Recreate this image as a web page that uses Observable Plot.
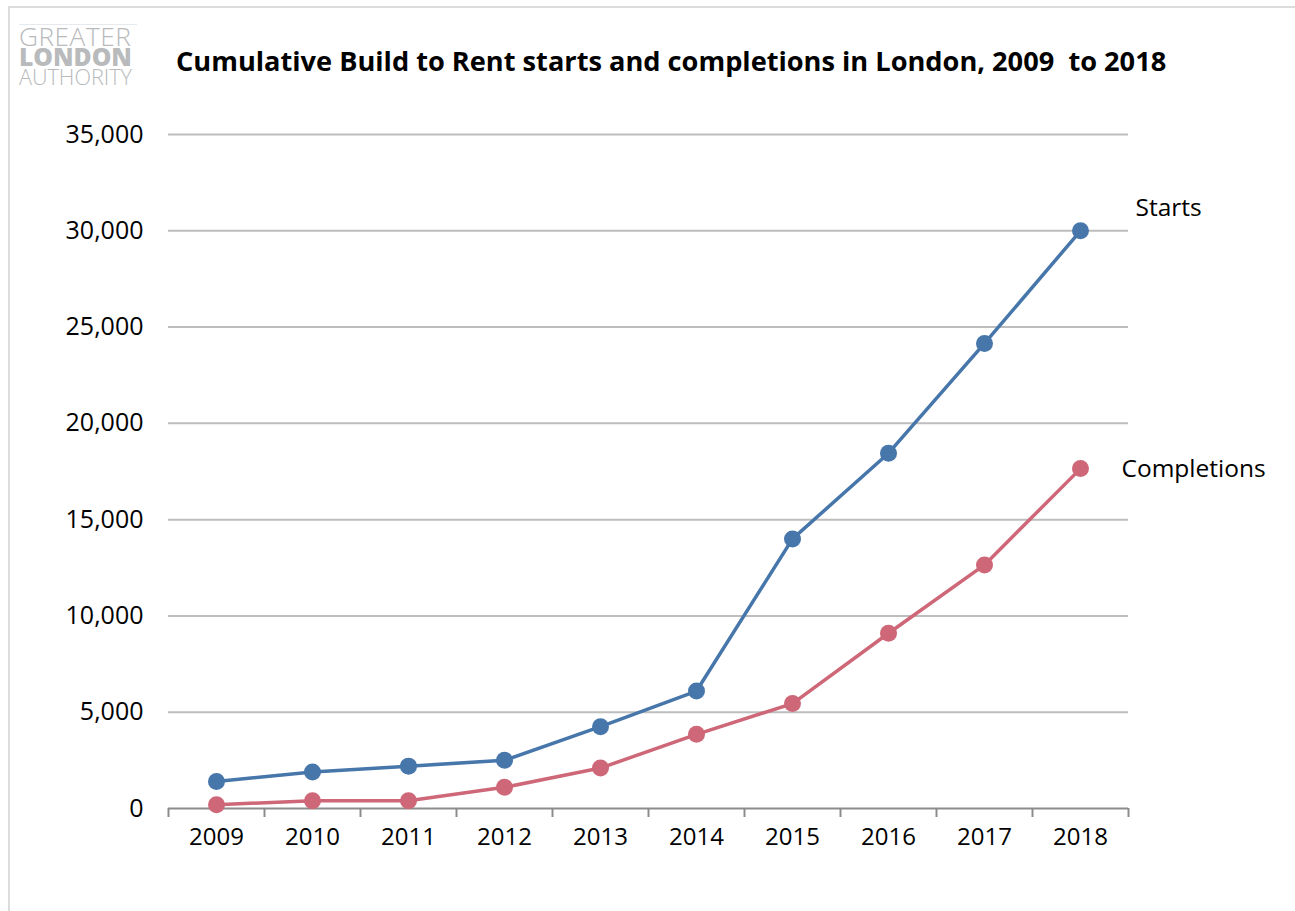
<!DOCTYPE html>
<html>
<head>
<meta charset="utf-8">
<script src="https://cdn.jsdelivr.net/npm/d3@7"></script>
<script src="https://cdn.jsdelivr.net/npm/@observablehq/plot@0.6"></script>
<style>
  html, body { margin: 0; padding: 0; background: #fff; }
  body { width: 1295px; height: 911px; position: relative; overflow: hidden; font-family: "Open Sans", sans-serif; }
  #frame { position: absolute; left: 8px; top: 6px; width: 1300px; height: 920px; border-left: 2px solid #dcdcdc; border-top: 2px solid #dcdcdc; box-sizing: border-box; }
  #logo { position: absolute; left: 19px; top: 24px; width: 118px; border-top: 1px solid #e6e9ee; color: #b8babc; padding-top: 1px; }
  #logo div { white-space: nowrap; line-height: 20.5px; height: 20.5px; overflow: visible; }
  #title { position: absolute; left: 176px; top: 42px; font-weight: 700; color: #000; white-space: pre; }
  #chart { position: absolute; left: 0; top: 100px; }
</style>
</head>
<body>
<div id="frame"></div>
<div id="logo">
  <div id="l1" style="font-size:22px;font-weight:300;letter-spacing:0.5px">GREATER</div>
  <div id="l2" style="font-size:22px;font-weight:800;">LONDON</div>
  <div id="l3" style="font-size:20px;font-weight:300;">AUTHORITY</div>
</div>
<div id="title">Cumulative Build to Rent starts and completions in London, 2009  to 2018</div>
<div id="chart"></div>
<script>
const years = [2009, 2010, 2011, 2012, 2013, 2014, 2015, 2016, 2017, 2018];
const starts = [1400, 1900, 2200, 2500, 4250, 6100, 14000, 18450, 24150, 30000];
const completions = [200, 400, 400, 1100, 2100, 3850, 5450, 9100, 12650, 17650];
const seriesNames = ["Starts", "Completions"];
const yTicks = [0, 5000, 10000, 15000, 20000, 25000, 30000, 35000];
const colors = ["#4676aa", "#ce6777"];

const data = [
  ...years.map((yr, i) => ({year: yr, value: starts[i], series: seriesNames[0]})),
  ...years.map((yr, i) => ({year: yr, value: completions[i], series: seriesNames[1]}))
];
const lastPoints = data.filter(d => d.year === years[years.length - 1]);
const bandEdges = [years[0] - 0.5, ...years.map(y => y + 0.5)];

// fit title width
const title = document.getElementById("title");
let fs = 25;
title.style.fontSize = fs + "px";
title.style.fontFamily = "'Open Sans', sans-serif";
const w0 = title.getBoundingClientRect().width;
fs = fs * 991 / w0;
title.style.fontSize = fs + "px";

// fit logo lines to width
["l1", "l2", "l3"].forEach(id => {
  const el = document.getElementById(id);
  el.style.display = "inline-block";
  const w = el.getBoundingClientRect().width;
  const cur = parseFloat(el.style.fontSize);
  el.style.fontSize = (cur * 113 / w) + "px";
  el.style.display = "block";
});

const chart = Plot.plot({
  width: 1295,
  height: 811,
  marginLeft: 168,
  marginRight: 167,
  marginTop: 34,
  marginBottom: 103,
  style: { fontFamily: "'Open Sans', sans-serif", fontSize: "24px", color: "#000", background: "transparent" },
  x: { domain: [years[0] - 0.5, years[years.length - 1] + 0.5], axis: null },
  y: { domain: [0, 35000], axis: null },
  color: { domain: seriesNames, range: colors },
  marks: [
    Plot.ruleY(yTicks.filter(t => t > 0), { stroke: "#bdbdbd", strokeWidth: 2 }),
    Plot.ruleY([0], { stroke: "#8c8c8c", strokeWidth: 2 }),
    Plot.ruleX(bandEdges, { x: d => d, y1: 0, y2: 0, insetBottom: -9, stroke: "#8c8c8c", strokeWidth: 2 }),
    Plot.axisY({ ticks: yTicks, tickFormat: d3.format(","), tickSize: 0, tickPadding: 25, fontSize: 25, fill: "#000", label: null }),
    Plot.axisX({ ticks: years, tickFormat: d => String(d), tickSize: 0, tickPadding: 19, fontSize: 24, fill: "#000", label: null }),
    Plot.line(data, { x: "year", y: "value", stroke: "series", strokeWidth: 3.5 }),
    Plot.dot(data, { x: "year", y: "value", fill: "series", r: 8.5 }),
    Plot.text(lastPoints.filter(d => d.series === seriesNames[0]), { x: "year", y: "value", text: "series", textAnchor: "start", dx: 55, dy: -23, fontSize: 24.5, fill: "#000" }),
    Plot.text(lastPoints.filter(d => d.series === seriesNames[1]), { x: "year", y: "value", text: "series", textAnchor: "start", dx: 41, dy: 1, fontSize: 24.5, fill: "#000" })
  ]
});
document.getElementById("chart").appendChild(chart);
</script>
</body>
</html>
